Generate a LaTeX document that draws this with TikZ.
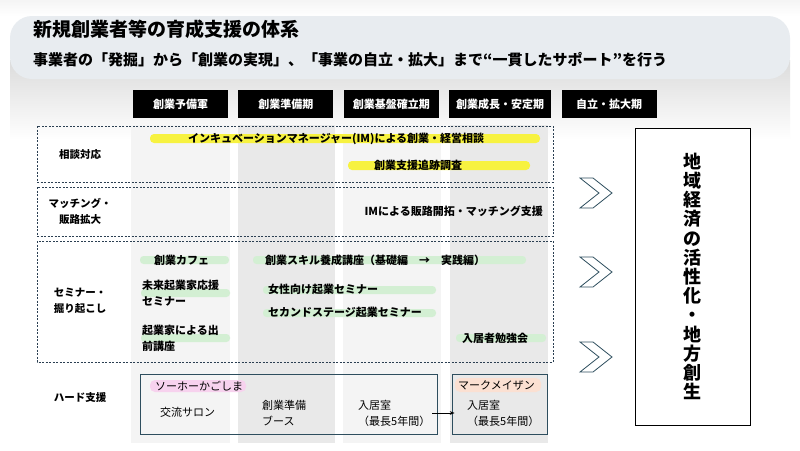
\documentclass[tikz,border=0pt]{standalone}
\usepackage{fontspec}
\setmainfont{Noto Sans CJK JP}
\usetikzlibrary{arrows.meta, positioning}
\usepackage{xcolor}
\definecolor{bannerC}{HTML}{E8ECF0}
\definecolor{bandL}{HTML}{F4F4F4}
\definecolor{bandD}{HTML}{E9E9E9}
\definecolor{dashC}{HTML}{2B3F52}
\definecolor{tealC}{HTML}{2E4E5E}
\definecolor{barY}{HTML}{F7F240}
\definecolor{barG}{HTML}{D3EFD3}
\definecolor{barP}{HTML}{F7D2EE}
\definecolor{barO}{HTML}{FBE0D2}

\begin{document}
\begin{tikzpicture}[x=1pt, y=-1pt,
  head/.style={fill=black, text=white, minimum width=95pt, minimum height=28pt, inner sep=0pt, font=\fontsize{11}{13}\selectfont\bfseries},
  rowlabel/.style={align=center, font=\fontsize{10.5}{16}\selectfont\bfseries},
  dashbox/.style={draw=dashC, dash pattern=on 2pt off 1.5pt, line width=0.8pt},
  item/.style={anchor=west, inner sep=0pt, align=left, font=\fontsize{11}{16}\selectfont\bfseries},
  hard/.style={anchor=west, align=left, inner sep=0pt, font=\fontsize{11}{16}\selectfont},
  ybar/.style={fill=barY, rounded corners=4pt},
  gbar/.style={fill=barG, rounded corners=3.5pt},
  hardbox/.style={draw=tealC, line width=0.9pt, minimum height=60pt, inner sep=0pt},
  chev/.style={draw=tealC, fill=white, line width=0.8pt},
  arrow/.style={->, >=Stealth}]
\useasboundingbox (0,0) rectangle (800,450);
\fill[white] (0,0) rectangle (800,450);
\shade[top color=black!4, bottom color=white] (0,0) rectangle (800,16);
\shade[top color=black!14, bottom color=white] (10,60) rectangle (790,140);

% title banner
\fill[bannerC, rounded corners=22pt] (10,16) rectangle (790,79);
\node[anchor=west, inner sep=0pt, font=\fontsize{19}{21}\selectfont\bfseries] (title) at (33,29) {新規創業者等の育成支援の体系};
\node[anchor=west, inner sep=0pt, font=\fontsize{15}{17}\selectfont\bfseries] (sub) at (33,60) {事業者の「発掘」から「創業の実現」、「事業の自立・拡大」まで“一貫したサポート”を行う};

% stages
\node[head] (h1) at (180.5,104) {創業予備軍};
\node[head, right=10pt of h1] (h2) {創業準備期};
\node[head, right=10pt of h2] (h3) {創業基盤確立期};
\node[head, right=10pt of h3, minimum width=102pt] (h4) {創業成長・安定期};
\node[head, right=10pt of h4] (h5) {自立・拡大期};

% column bands
\fill[bandL] (131,125) rectangle (230,443);
\fill[bandD] (238,125) rectangle (335,443);
\fill[bandL] (343,125) rectangle (441,443);
\fill[bandD] (450,125) rectangle (548,443);

% rows
\draw[dashbox] (37,126) rectangle (553,182);
\draw[dashbox] (37,187) rectangle (553,236);
\draw[dashbox] (37,241) rectangle (553,362);
\node[rowlabel] (r1) at (80,155) {相談対応};
\node[rowlabel] (r2) at (80,211) {マッチング・\\販路拡大};
\node[rowlabel] (r3) at (80,301) {セミナー・\\掘り起こし};
\node[rowlabel] (r4) at (80,398) {ハード支援};

% consultation
\fill[ybar] (150,134) rectangle (540,143);
\fill[ybar] (348,161) rectangle (530,170);
\node[item] (im) at (188,138.5) {インキュベーションマネージャー(IM)による創業・経営相談};
\node[item] (trace) at (374,165.5) {創業支援追跡調査};

% matching
\node[item, anchor=east] (match) at (543,211) {IMによる販路開拓・マッチング支援};

% seminars
\fill[gbar] (140,256) rectangle (229,264);
\fill[gbar] (141,289) rectangle (230,297);
\fill[gbar] (141,334) rectangle (230,342);
\fill[gbar] (253,256) rectangle (526,264);
\fill[gbar] (263,286) rectangle (436,294);
\fill[gbar] (263,309) rectangle (436,317);
\fill[gbar] (456,334) rectangle (546,342);
\node[item] (cafe) at (154,260) {創業カフェ};
\node[item] (future) at (142,293) {未来起業家応援\\セミナー};
\node[item] (visit) at (142,338) {起業家による出\\前講座};
\node[item] (skill) at (265,260) {創業スキル養成講座（基礎編\hspace{1em}→\hspace{1em}実践編）};
\node[item] (women) at (268,289) {女性向け起業セミナー};
\node[item] (second) at (268,312) {セカンドステージ起業セミナー};
\node[item] (study) at (462,338) {入居者勉強会};

% hard support
\node[hardbox, minimum width=297pt] (sohobox) at (288.5,404) {};
\node[hardbox, minimum width=95pt] (markbox) at (499.5,404) {};
\fill[barP, rounded corners=5pt] (150,380) rectangle (246,392);
\fill[barO, rounded corners=5pt] (455,378) rectangle (541,392);
\node[item, font=\fontsize{11}{16}\selectfont] (soho) at (155,386) {ソーホーかごしま};
\node[item, font=\fontsize{11}{16}\selectfont] (mark) at (458,385) {マークメイザン};
\node[hard] (salon) at (160,412) {交流サロン};
\node[hard] (booth) at (262,413) {創業準備\\ブース};
\node[hard] (room1) at (358,413) {入居室\\（最長5年間）};
\node[hard] (room2) at (467,413) {入居室\\（最長5年間）};
\draw[arrow] ([xshift=-5pt]sohobox.east |- room1.west) -- ([xshift=3pt]markbox.west |- room1.west);

% toward goal
\foreach \cy in {193,272,357}
  \draw[chev] (580,\cy-15) -- (593,\cy-15) -- (612,\cy) -- (593,\cy+15) -- (580,\cy+15) -- (599,\cy) -- cycle;
\node[draw, fill=white, line width=0.7pt, minimum width=115pt, minimum height=297pt, align=center, inner sep=0pt, font=\fontsize{18}{19.2}\selectfont\bfseries] (goal) at (692.5,276.5) {地\\域\\経\\済\\の\\活\\性\\化\\・\\地\\方\\創\\生};
\end{tikzpicture}
\end{document}
